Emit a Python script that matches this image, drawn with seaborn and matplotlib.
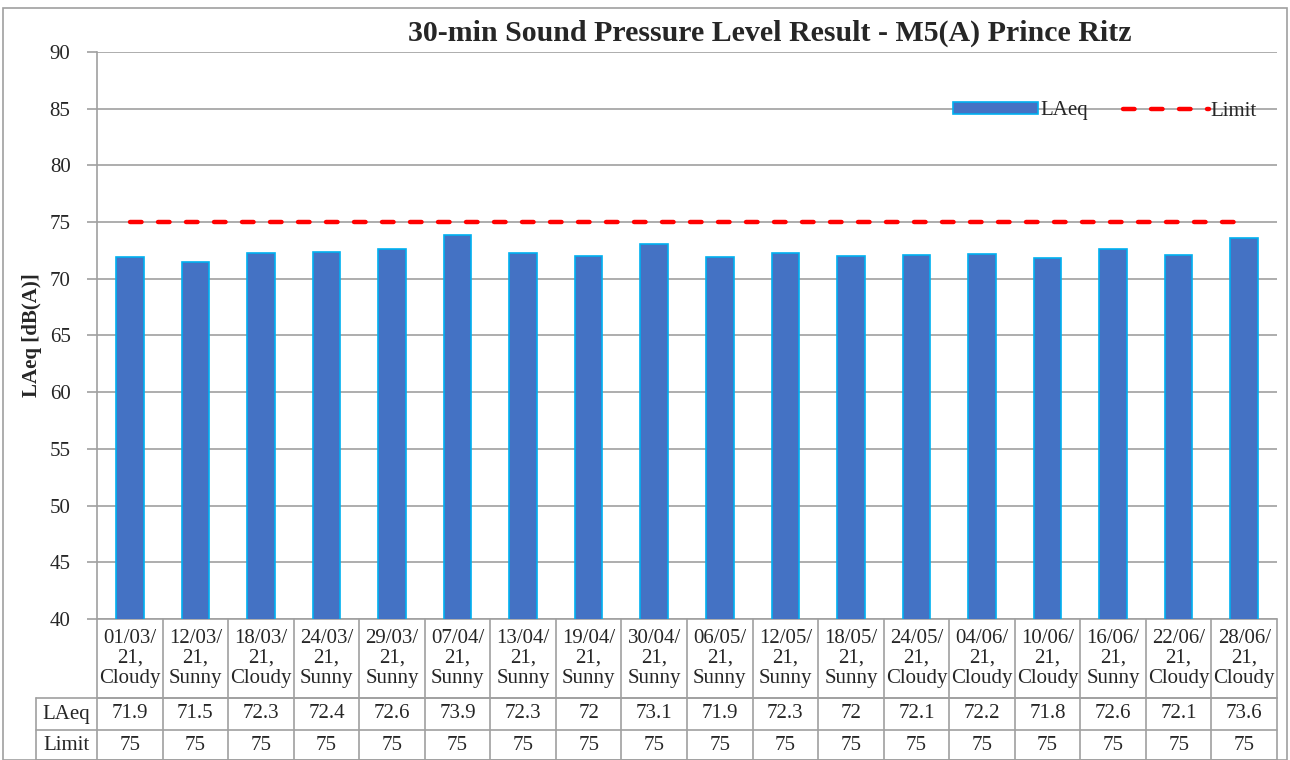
import matplotlib
matplotlib.use("Agg")
import matplotlib.pyplot as plt
import matplotlib.transforms as mtransforms
from matplotlib.patches import Rectangle
from matplotlib.lines import Line2D
import pandas as pd
import seaborn as sns

# data
dates = ["01/03/21", "12/03/21", "18/03/21", "24/03/21", "29/03/21", "07/04/21",
         "13/04/21", "19/04/21", "30/04/21", "06/05/21", "12/05/21", "18/05/21",
         "24/05/21", "04/06/21", "10/06/21", "16/06/21", "22/06/21", "28/06/21"]
weather = ["Cloudy", "Sunny", "Cloudy", "Sunny", "Sunny", "Sunny",
           "Sunny", "Sunny", "Sunny", "Sunny", "Sunny", "Sunny",
           "Cloudy", "Cloudy", "Cloudy", "Sunny", "Cloudy", "Cloudy"]
laeq = [71.9, 71.5, 72.3, 72.4, 72.6, 73.9, 72.3, 72.0, 73.1, 71.9,
        72.3, 72.0, 72.1, 72.2, 71.8, 72.6, 72.1, 73.6]
limit = [75] * 18
yticks = [40, 45, 50, 55, 60, 65, 70, 75, 80, 85, 90]

BAR = "#4472C4"
EDGE = "#00B0F0"
GRID = "#A0A0A0"
LW = 3.2
DASH = (2.6, 3.7)

sns.set_theme(style="white")
plt.rcParams["font.family"] = ["Liberation Serif", "DejaVu Serif"]

df = pd.DataFrame({"cat": [str(i) for i in range(len(dates))], "LAeq": laeq, "Limit": limit})

fig = plt.figure(figsize=(12.9, 7.6), dpi=100)
W, H = 1290, 760
AW = 1277 - 97
ax = fig.add_axes([97 / W, 1 - 619 / H, AW / W, (619 - 52) / H])

sns.barplot(data=df, x="cat", y="LAeq", color=BAR, width=0.42, edgecolor=EDGE,
            linewidth=1.2, saturation=1, ax=ax, label="LAeq", zorder=3)
sns.lineplot(data=df, x="cat", y="Limit", color="red", linewidth=LW, ax=ax,
             label="Limit", zorder=4)
ax.lines[-1].set_dashes(DASH)
ax.lines[-1].set_dash_capstyle("round")

ax.set_ylim(40, 90)
ax.set_xlim(-0.5, len(dates) - 0.5)
ax.set_yticks(yticks)
ax.set_yticklabels([str(v) for v in yticks], fontsize=15)
ax.set_xticks([])
ax.set_xlabel("")
ax.set_ylabel("LAeq [dB(A)]", fontsize=15, fontweight="bold")
ax.yaxis.set_label_coords(-(97 - 42) / AW, 0.5)
ax.yaxis.grid(True, color=GRID, linewidth=1.2, zorder=0)
ax.set_axisbelow(True)
for side in ["top", "right", "bottom"]:
    ax.spines[side].set_visible(False)
ax.spines["left"].set_color(GRID)
ax.spines["left"].set_linewidth(1.2)
ax.tick_params(axis="y", length=7, width=1.2, color=GRID, pad=12, left=True)

legend_line = Line2D([], [], color="red", linewidth=LW, dashes=DASH)
legend_line.set_dash_capstyle("round")
handles = [Rectangle((0, 0), 1, 1, facecolor=BAR, edgecolor=EDGE, linewidth=1.2), legend_line]
ax.legend(handles, ["LAeq", "Limit"], loc="center right",
          bbox_to_anchor=((1257 - 97) / AW, (619 - 111) / (619 - 52)),
          ncol=2, frameon=False, fontsize=15, handlelength=4.1, handletextpad=0.1,
          columnspacing=1.7, handleheight=0.45, borderpad=0, borderaxespad=0)

fig.text(770 / W, 1 - 33 / H, "30-min Sound Pressure Level Result - M5(A) Prince Ritz",
         ha="center", va="center", fontsize=21.5, fontweight="bold")

# data table under the axis: x in data units, y in axes units
trans = mtransforms.blended_transform_factory(ax.transData, ax.transAxes)
ah = 619 - 52
y_head = -(698 - 619) / ah
y_row1 = -(730 - 619) / ah
y_row2 = -(760 - 619) / ah
n = len(dates)
lab_left = -0.5 - (97 - 36) / (AW / n)
line_kw = dict(color=GRID, linewidth=1.2, clip_on=False, transform=trans)

for y in [0, y_head]:
    ax.add_line(Line2D([-0.5, n - 0.5], [y, y], **line_kw))
for y in [y_head, y_row1, y_row2]:
    ax.add_line(Line2D([lab_left, n - 0.5], [y, y], **line_kw))
for i in range(n + 1):
    ax.add_line(Line2D([i - 0.5, i - 0.5], [0, y_row2], **line_kw))
ax.add_line(Line2D([lab_left, lab_left], [y_head, y_row2], **line_kw))

txt_kw = dict(transform=trans, ha="center", va="center", fontsize=15, clip_on=False)
for i, (d, w) in enumerate(zip(dates, weather)):
    dd, mm, yy = d.split("/")
    ax.text(i, y_head / 2, f"{dd}/{mm}/\n{yy},\n{w}", linespacing=1.05, **txt_kw)
    ax.text(i, (y_head + y_row1) / 2, f"{laeq[i]:g}", **txt_kw)
    ax.text(i, (y_row1 + y_row2) / 2, f"{limit[i]}", **txt_kw)
lab_x = (lab_left - 0.5) / 2
ax.text(lab_x, (y_head + y_row1) / 2, "LAeq", **txt_kw)
ax.text(lab_x, (y_row1 + y_row2) / 2, "Limit", **txt_kw)

# outer chart border
fig.patches.append(Rectangle((3 / W, 0), (1287 - 3) / W, 1 - 8 / H, transform=fig.transFigure,
                             fill=False, edgecolor=GRID, linewidth=1.2))

fig.savefig("out.png", dpi=100)
